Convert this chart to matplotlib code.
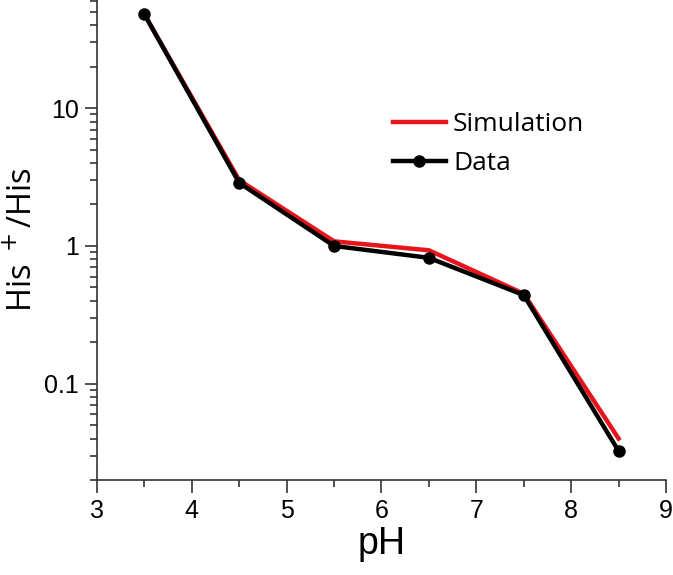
import matplotlib
matplotlib.use("Agg")
import matplotlib.pyplot as plt
from matplotlib.ticker import LogLocator, FixedLocator, NullFormatter, FixedFormatter

ph = [3.5, 4.5, 5.5, 6.5, 7.5, 8.5]
sim = [48, 3.0, 1.08, 0.93, 0.45, 0.040]
data = [48, 2.87, 1.0, 0.82, 0.44, 0.0325]

plt.rcParams['font.family'] = ['Liberation Sans', 'DejaVu Sans']

fig = plt.figure(figsize=(6.73, 5.75), dpi=100)
ax = fig.add_axes([0.1441, 0.1652, 0.8455, 0.8348])

ax.plot(ph, sim, color='#e8141c', lw=3.2, label='Simulation', zorder=2)
ax.plot(ph, data, color='black', lw=3.2, marker='o', ms=8, label='Data', zorder=3)

ax.set_yscale('log')
ax.set_xlim(3, 9)
ax.set_ylim(0.02, 61)
ax.set_xticks([3, 4, 5, 6, 7, 8, 9])
ax.set_xticks([3.5, 4.5, 5.5, 6.5, 7.5, 8.5], minor=True)
ax.yaxis.set_major_locator(FixedLocator([0.1, 1, 10]))
ax.yaxis.set_major_formatter(FixedFormatter(['0.1', '1', '10']))
ax.yaxis.set_minor_locator(LogLocator(base=10, subs=range(2, 10)))
ax.yaxis.set_minor_formatter(NullFormatter())

for s in ['top', 'right']:
    ax.spines[s].set_visible(False)
for s in ['left', 'bottom']:
    ax.spines[s].set_linewidth(1.2)
    ax.spines[s].set_color('#333333')

ax.tick_params(which='major', direction='out', length=9, width=1.2, labelsize=18, color='#333333')
ax.tick_params(which='minor', direction='out', length=5, width=1.2, color='#333333')
ax.tick_params(axis='x', pad=5)
ax.tick_params(axis='y', pad=4)

ax.set_xlabel('pH', fontsize=27, labelpad=2)
ax.set_ylabel('His$^{\\ +}$/His', fontsize=23.5, labelpad=3,
              family=['Open Sans', 'DejaVu Sans'])

leg = fig.legend(loc='center left', bbox_to_anchor=(393 / 673, 1 - 144 / 575), frameon=False,
                 handlelength=2.0, handletextpad=0.27, labelspacing=0.55,
                 borderpad=0, borderaxespad=0,
                 prop={'family': ['Open Sans', 'DejaVu Sans'], 'size': 19})

fig.savefig('out.png', dpi=100)
